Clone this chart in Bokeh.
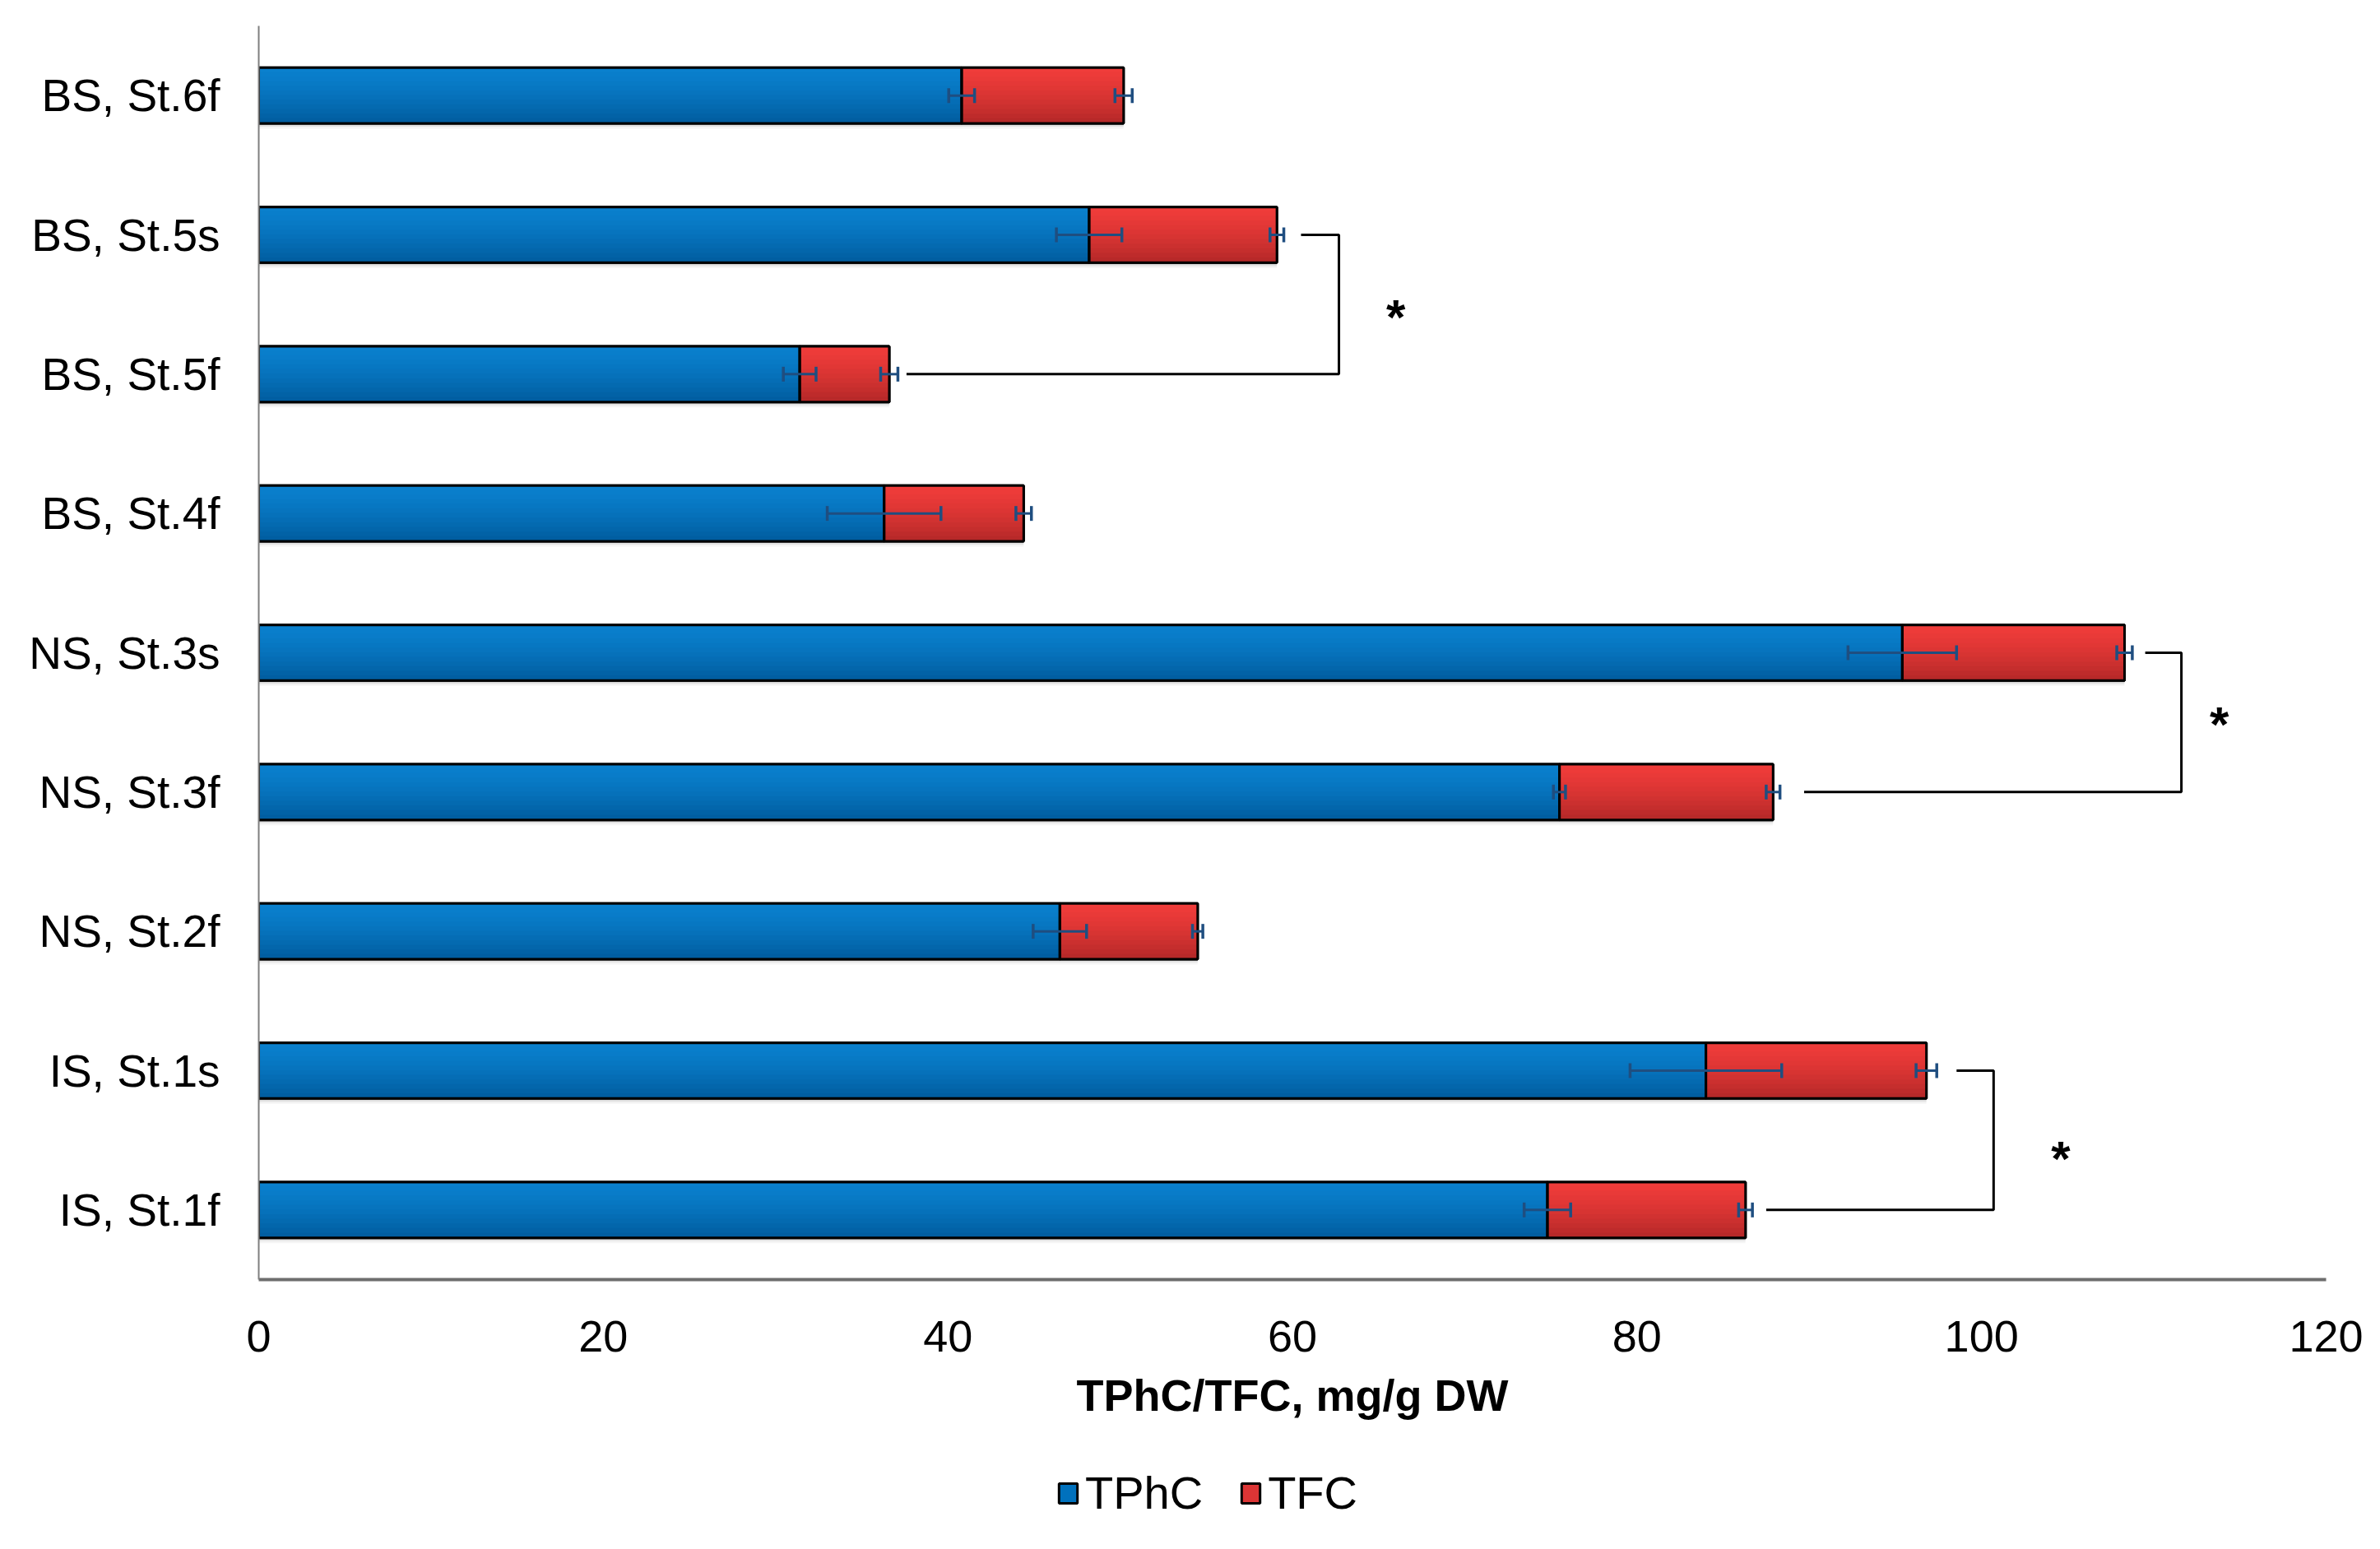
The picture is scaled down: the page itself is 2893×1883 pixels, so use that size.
import numpy as np
from bokeh.plotting import figure
from bokeh.layouts import column
from bokeh.models import (ColumnDataSource, FactorRange, Range1d, Whisker, TeeHead,
                          Legend, LegendItem)
from bokeh.transform import dodge
from bokeh.embed import file_html
from bokeh.resources import INLINE
from bokeh.core.properties import value

# ---- data (top to bottom as in the chart) ----
categories = ["BS, St.6f", "BS, St.5s", "BS, St.5f", "BS, St.4f", "NS, St.3s",
              "NS, St.3f", "NS, St.2f", "IS, St.1s", "IS, St.1f"]
tphc = [40.8, 48.2, 31.4, 36.3, 95.4, 75.5, 46.5, 84.0, 74.8]
tfc = [9.4, 10.9, 5.2, 8.1, 12.9, 12.4, 8.0, 12.8, 11.5]
tphc_err = [0.75, 1.9, 0.95, 3.3, 3.15, 0.35, 1.55, 4.4, 1.35]
tfc_err = [0.5, 0.4, 0.5, 0.45, 0.45, 0.4, 0.3, 0.6, 0.4]
x_ticks = [0, 20, 40, 60, 80, 100, 120]
series = ["TPhC", "TFC"]

# significance brackets
bracket_top = ["BS, St.5s", "NS, St.3s", "IS, St.1s"]
bracket_bottom = ["BS, St.5f", "NS, St.3f", "IS, St.1f"]
bracket_top_x = [60.5, 109.5, 98.55]
bracket_bottom_x = [37.6, 89.7, 87.5]
bracket_x = [62.7, 111.6, 100.7]
star_x = [66.0, 113.8, 104.6]
star_offset = [0.46, 0.54, 0.42]   # above the lower bar, in category units

BLUE_TOP, BLUE_BOT, BLUE = (10, 128, 206), (0, 92, 158), "#0071BD"
RED_TOP, RED_BOT, RED = (240, 60, 58), (180, 40, 40), "#DC3535"
ERR = "#1F4E80"
FONT = "Liberation Sans"
BAR_H = 0.4
N_STRIPS = 12
W = 2880

total = [a + b for a, b in zip(tphc, tfc)]
src = ColumnDataSource(dict(
    cat=categories, tphc=tphc, total=total,
    tphc_lo=[a - e for a, e in zip(tphc, tphc_err)],
    tphc_hi=[a + e for a, e in zip(tphc, tphc_err)],
    tot_lo=[a - e for a, e in zip(total, tfc_err)],
    tot_hi=[a + e for a, e in zip(total, tfc_err)],
))

p = figure(width=W, height=1745,
           y_range=FactorRange(factors=categories[::-1]),
           x_range=Range1d(0, 120),
           output_backend="svg", toolbar_location=None,
           min_border_left=314, min_border_right=53,
           min_border_top=31, min_border_bottom=190)
p.outline_line_color = None
p.xgrid.visible = False
p.ygrid.visible = False


def mix(c0, c1, t):
    return "#%02x%02x%02x" % tuple(int(round(a + (b - a) * t)) for a, b in zip(c0, c1))


# soft drop shadow under the bars
for off, alpha in ((-0.012, 0.10), (-0.024, 0.07), (-0.038, 0.04)):
    p.hbar(y=dodge("cat", off, range=p.y_range), left=0, right="total", height=BAR_H,
           source=src, fill_color="black", fill_alpha=alpha, line_color=None)

# base bars, gradient strips, outlines
p.hbar(y="cat", left=0, right="tphc", height=BAR_H, source=src,
       fill_color=BLUE, line_color="black", line_width=3)
p.hbar(y="cat", left="tphc", right="total", height=BAR_H, source=src,
       fill_color=RED, line_color="black", line_width=3)
h = BAR_H / N_STRIPS
for k in range(N_STRIPS):
    t = ((k + 0.5) / N_STRIPS) ** 1.4
    off = BAR_H / 2 - (k + 0.5) * h
    ycoord = dodge("cat", off, range=p.y_range)
    p.hbar(y=ycoord, left=0, right="tphc", height=h * 1.2, source=src,
           fill_color=mix(BLUE_TOP, BLUE_BOT, t), line_color=None)
    p.hbar(y=ycoord, left="tphc", right="total", height=h * 1.2, source=src,
           fill_color=mix(RED_TOP, RED_BOT, t), line_color=None)
p.hbar(y="cat", left=0, right="tphc", height=BAR_H, source=src,
       fill_color=None, line_color="black", line_width=3)
p.hbar(y="cat", left="tphc", right="total", height=BAR_H, source=src,
       fill_color=None, line_color="black", line_width=3)

for lo, hi in (("tphc_lo", "tphc_hi"), ("tot_lo", "tot_hi")):
    w = Whisker(source=src, base="cat", lower=lo, upper=hi, dimension="width",
                level="overlay", line_color=ERR, line_width=3,
                upper_head=TeeHead(size=18, line_color=ERR, line_width=3.5),
                lower_head=TeeHead(size=18, line_color=ERR, line_width=3.5))
    p.add_layout(w)

bsrc = ColumnDataSource(dict(
    xs=[[a, b, b, c] for a, b, c in zip(bracket_top_x, bracket_x, bracket_bottom_x)],
    ys=[[t, t, bt, bt] for t, bt in zip(bracket_top, bracket_bottom)],
))
p.multi_line(xs="xs", ys="ys", source=bsrc, line_color="black", line_width=3)

ssrc = ColumnDataSource(dict(
    x=star_x, y=[(c, o) for c, o in zip(bracket_bottom, star_offset)], t=["*"] * 3))
p.text(x="x", y="y", text="t", source=ssrc,
       text_font=value(FONT), text_font_style="bold", text_font_size="60px",
       text_align="center", text_baseline="middle", y_offset=9, text_color="black")

# axes
p.xaxis.ticker = x_ticks
p.xaxis.axis_label = "TPhC/TFC, mg/g DW"
p.xaxis.axis_label_text_font = FONT
p.xaxis.axis_label_text_font_style = "bold"
p.xaxis.axis_label_text_font_size = "54px"
p.xaxis.axis_label_text_color = "black"
p.xaxis.axis_label_standoff = 20
p.xaxis.axis_line_color = "#6e6e6e"
p.xaxis.axis_line_width = 4
p.xaxis.major_tick_line_color = None
p.xaxis.minor_tick_line_color = None
p.xaxis.major_label_text_font = FONT
p.xaxis.major_label_text_font_size = "54px"
p.xaxis.major_label_standoff = 44
p.xaxis.major_label_text_color = "black"

p.yaxis.axis_line_color = "#7f7f7f"
p.yaxis.axis_line_width = 2
p.yaxis.major_tick_line_color = None
p.yaxis.minor_tick_line_color = None
p.yaxis.major_tick_out = 0
p.yaxis.major_tick_in = 0
p.yaxis.major_label_text_font = FONT
p.yaxis.major_label_text_font_size = "55px"
p.yaxis.major_label_standoff = 47
p.yaxis.major_label_text_color = "black"

# legend strip below the chart (its frame is aligned with the chart's frame)
lg = figure(width=W, height=120, x_range=Range1d(0, 1), y_range=Range1d(0, 1),
            x_axis_type=None, y_axis_type=None, output_backend="svg",
            toolbar_location=None, min_border=0)
lg.outline_line_color = None
lg.xgrid.visible = False
lg.ygrid.visible = False
# legend-only renderers: a single undrawable (NaN) row, used for the swatches
nan_row = np.array([np.nan])
r_blue = lg.hbar(y=nan_row, left=nan_row, right=nan_row, height=BAR_H,
                 fill_color=BLUE, line_color="black", line_width=3)
r_red = lg.hbar(y=nan_row, left=nan_row, right=nan_row, height=BAR_H,
                fill_color=RED, line_color="black", line_width=3)
legend = Legend(items=[LegendItem(label=series[0], renderers=[r_blue]),
                       LegendItem(label=series[1], renderers=[r_red])],
                orientation="horizontal", location=(970, 18),
                glyph_width=28, glyph_height=30, label_standoff=7, spacing=44,
                padding=0, margin=0, border_line_color=None, background_fill_alpha=0,
                label_text_font=FONT, label_text_font_size="56px",
                label_text_color="black")
lg.add_layout(legend)

open("out.html", "w").write(file_html(column(p, lg, spacing=0), INLINE))
